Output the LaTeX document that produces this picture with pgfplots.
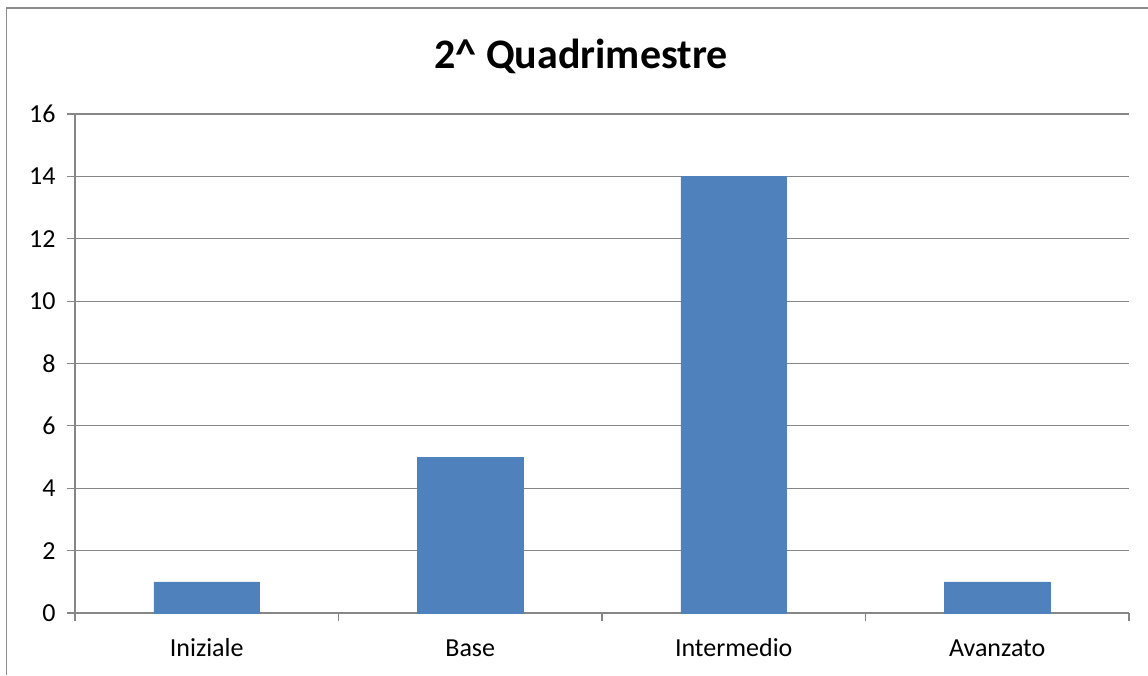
\documentclass[border=0pt]{standalone}
\usepackage{pgfplots}
\pgfplotsset{compat=1.18}
\usepackage{fontspec}
\setmainfont{Carlito}
\definecolor{barblue}{HTML}{4F81BD}
\definecolor{axgray}{HTML}{868686}
\definecolor{framegray}{HTML}{8C8C8C}
\begin{document}
\begin{tikzpicture}[x=1pt,y=1pt]
\path[use as bounding box] (0pt,0pt) rectangle (1148pt,675pt);
\draw[framegray, line width=1.5pt] (6.5pt,0pt) -- (6.5pt,667pt) -- (1148pt,667pt);
\node[font=\fontsize{42}{50}\selectfont\bfseries, anchor=base] at (581pt,606pt) {2\textasciicircum{} Quadrimestre};
\begin{axis}[
  at={(75pt,62pt)}, anchor=south west,
  scale only axis, width=1054pt, height=499pt,
  ybar, bar width=105.5pt,
  xmin=0, xmax=4, ymin=0, ymax=16,
  ytick={0,2,...,16},
  xtick={0,1,2,3,4}, xticklabels={},
  extra x ticks={0.5,1.5,2.5,3.5},
  extra x tick labels={Iniziale,Base,Intermedio,Avanzato},
  extra x tick style={major tick length=0pt, grid=none},
  axis lines*=left,
  axis line style={axgray, line width=1.2pt},
  tick style={axgray, line width=1.2pt},
  major tick length=8pt,
  tick align=outside,
  ymajorgrids, grid style={axgray, line width=1.2pt},
  xmajorgrids=false,
  ticklabel style={font=\fontsize{26}{30}\selectfont},
  /pgf/number format/assume math mode=true,
  yticklabel style={xshift=-8pt},
  xticklabel style={yshift=-32pt, text height=0.75em, text depth=0.25em},
]
\addplot[fill=barblue, draw=barblue] coordinates {(0.5,1) (1.5,5) (2.5,14) (3.5,1)};
\end{axis}
\end{tikzpicture}
\end{document}
